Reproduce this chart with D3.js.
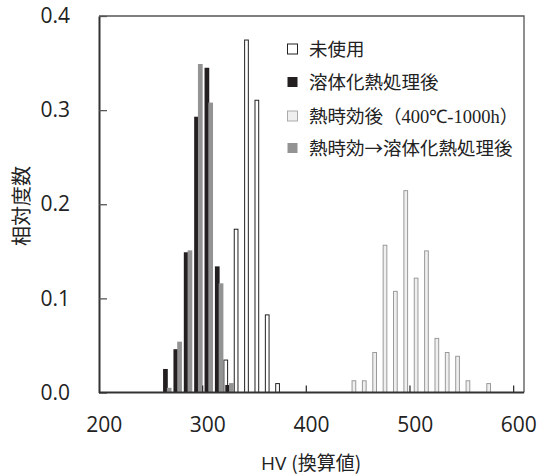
<!DOCTYPE html>
<html>
<head>
<meta charset="utf-8">
<script src="https://cdn.jsdelivr.net/npm/d3@7"></script>
<style>
  body { margin: 0; background: #fff; }
  svg { display: block; }
  .tick text { font-family: "Open Sans", "Noto Sans", sans-serif; font-size: 21px; fill: #222; }
  .jp { font-family: "Noto Sans CJK JP", sans-serif; fill: #222; }
</style>
</head>
<body>
<svg id="chart" width="540" height="475"></svg>
<script>
// HV categories (bin of 10) and axis labels
const hvBins = d3.range(200, 601, 10);
const xLabels = [200, 300, 400, 500, 600];
const xTickMarks = [300, 400, 500, 600];
const yTicks = [0, 0.1, 0.2, 0.3, 0.4];

const seriesNames = ["未使用", "溶体化熱処理後", "熱時効後", "熱時効→溶体化熱処理後"];

// relative frequency per HV bin
const unused = [[320, 0.035], [330, 0.174], [340, 0.375], [350, 0.311], [360, 0.083], [370, 0.01]];
const solutionTreated = [[260, 0.025], [270, 0.046], [280, 0.149], [290, 0.293], [300, 0.345], [310, 0.134], [320, 0.008]];
const aged = [[440, 0.013], [450, 0.013], [460, 0.043], [470, 0.157], [480, 0.108], [490, 0.215], [500, 0.122],
  [510, 0.151], [520, 0.058], [530, 0.043], [540, 0.039], [550, 0.013], [570, 0.01]];
const agedSolution = [[260, 0.005], [270, 0.054], [280, 0.151], [290, 0.349], [300, 0.308], [310, 0.116], [320, 0.01]];

const series = [unused, solutionTreated, aged, agedSolution];
const styles = [
  { fill: "#ffffff", stroke: "#222" },
  { fill: "#231f20", stroke: "none" },
  { fill: "#efefef", stroke: "#9a9a9a" },
  { fill: "#939393", stroke: "none" }
];

const svg = d3.select("#chart");
const plot = { left: 99, right: 524, top: 16, bottom: 392.5 };

const x = d3.scaleBand().domain(hvBins).range([plot.left, plot.right]).padding(0);
const y = d3.scaleLinear().domain([0, 0.4]).range([plot.bottom, plot.top]);

// clustered columns, overlap 60%, no gap
const barW = x.bandwidth() / 2.2;
const step = barW * 0.4;

// frame (top / right)
svg.append("path")
  .attr("d", `M${plot.left},${plot.top}H${plot.right}V${plot.bottom}`)
  .attr("fill", "none")
  .attr("stroke", "#555")
  .attr("stroke-width", 1.3);

// bars
series.forEach((s, i) => {
  const st = styles[i];
  const inset = st.stroke === "none" ? 0 : 0.5;
  svg.append("g")
    .selectAll("rect")
    .data(s)
    .enter()
    .append("rect")
    .attr("x", (d) => x(d[0]) + i * step + inset)
    .attr("width", barW - 2 * inset)
    .attr("y", (d) => y(d[1]) + inset)
    .attr("height", (d) => y(0) - y(d[1]) - inset)
    .attr("fill", st.fill)
    .attr("stroke", st.stroke)
    .attr("stroke-width", 1);
});

// y axis
const yAxis = svg.append("g")
  .attr("transform", `translate(${plot.left},0)`)
  .call(d3.axisLeft(y).tickValues(yTicks).tickFormat(d3.format(".1f")).tickSizeInner(-8).tickSizeOuter(0).tickPadding(29));
yAxis.select(".domain").attr("stroke", "#333").attr("stroke-width", 2);
yAxis.selectAll(".tick line").attr("stroke", "#555").attr("stroke-width", 1.3);

// x axis labels at category centres
const xAxis = svg.append("g")
  .attr("transform", `translate(0,${plot.bottom})`)
  .call(d3.axisBottom(x).tickValues(xLabels).tickSize(0).tickPadding(25));
xAxis.select(".domain").remove();

// x baseline and inner tick marks at category edges
svg.append("line")
  .attr("x1", plot.left).attr("x2", plot.right)
  .attr("y1", plot.bottom).attr("y2", plot.bottom)
  .attr("stroke", "#333").attr("stroke-width", 2);
svg.append("g")
  .selectAll("line")
  .data(xTickMarks)
  .enter()
  .append("line")
  .attr("x1", (d) => x(d)).attr("x2", (d) => x(d))
  .attr("y1", plot.bottom).attr("y2", plot.bottom - 7)
  .attr("stroke", "#333").attr("stroke-width", 1.3);

// axis titles
svg.append("text")
  .attr("class", "jp")
  .attr("transform", "translate(29,206) rotate(-90)")
  .attr("text-anchor", "middle")
  .style("font-size", "20px")
  .text("相対度数");

const xt = svg.append("text")
  .attr("class", "jp")
  .attr("x", 311).attr("y", 470)
  .attr("text-anchor", "middle")
  .style("font-size", "19px");
xt.append("tspan").style("font-family", "'Open Sans', sans-serif").text("HV ");
xt.append("tspan").text("(換算値)");

// legend
const legendY = [49, 82, 116, 148];
const legend = svg.append("g")
  .selectAll("g")
  .data(seriesNames)
  .enter()
  .append("g")
  .attr("transform", (d, i) => `translate(287,${legendY[i]})`);

legend.append("rect")
  .attr("x", 0.5).attr("y", -5)
  .attr("width", 10).attr("height", 10)
  .attr("fill", (d, i) => styles[i].fill)
  .attr("stroke", (d, i) => (i === 0 ? "#222" : i === 2 ? "#aaa" : "none"));

legend.append("text")
  .attr("class", "jp")
  .attr("x", 22).attr("dy", "0.36em")
  .style("font-size", "18.5px")
  .each(function (d, i) {
    const t = d3.select(this);
    t.append("tspan").text(d);
    if (i === 2) {
      t.append("tspan").text("（");
      t.append("tspan").style("font-family", "'Liberation Serif', serif").text("400℃-1000h");
      t.append("tspan").text("）");
    }
  });
</script>
</body>
</html>
